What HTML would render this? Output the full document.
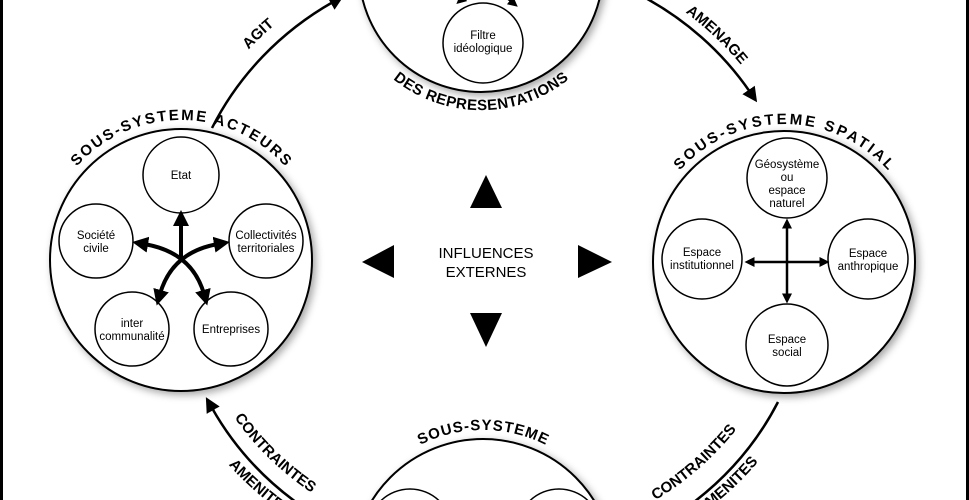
<!DOCTYPE html>
<html><head><meta charset="utf-8"><style>
html,body{margin:0;padding:0;background:#fff;width:969px;height:500px;overflow:hidden;}
svg{display:block;}
text{font-family:"Liberation Sans",sans-serif;fill:#000;}
.lb{font-size:15px;font-weight:bold;}
.sm{font-size:11.5px;}
</style></head><body>
<svg width="969" height="500" viewBox="0 0 969 500" xmlns="http://www.w3.org/2000/svg">
<defs>
<filter id="sh" x="-20%" y="-20%" width="140%" height="140%"><feDropShadow dx="3" dy="3" stdDeviation="4" flood-color="#000" flood-opacity="0.35"/></filter>
<marker id="ah" markerWidth="6" markerHeight="6" refX="1" refY="3" orient="auto" markerUnits="strokeWidth"><path d="M0,0 L6,3 L0,6 z" fill="#000"/></marker>
<marker id="as" markerWidth="4" markerHeight="4" refX="1" refY="2" orient="auto-start-reverse" markerUnits="strokeWidth"><path d="M0,0 L4,2 L0,4 z" fill="#000"/></marker>
<path id="pAgit" d="M185.3,150 A322 307 0 0 1 377.9,-33.6"/>
<path id="pAmen" d="M598.1,-33.6 A322 307 0 0 1 790.7,150"/>
<path id="pLC" d="M234.3,417.7 A306 291 0 0 0 434.8,541.6"/>
<path id="pLA" d="M220.7,455.7 A326 311 0 0 0 423.4,569.3"/>
<path id="pRC" d="M545.2,540.6 A306 291 0 0 0 736.5,429.2"/>
<path id="pRA" d="M561.6,572.3 A326 311 0 0 0 758.3,461.6"/>
<path id="pAct" d="M41,260 A140 140 0 0 1 321,260"/>
<path id="pSpa" d="M644,264 A140 140 0 0 1 924,264"/>
<path id="pRep" d="M349.4,17.9 A140 140 0 0 0 612.6,17.9"/>
<path id="pSous" d="M344,569 A139 139 0 0 1 622,569"/>
</defs>
<rect x="0" y="0" width="3" height="500" fill="#000"/>
<rect x="966" y="0" width="3" height="500" fill="#000"/>

<g fill="none" stroke="#000" stroke-width="2.5">
<path d="M212,128 A310 295 0 0 1 333,2" marker-end="url(#ah)"/>
<path d="M640,-5 A310 295 0 0 1 750,92" marker-end="url(#ah)"/>
<path d="M778,402 A310 295 0 0 1 690,505"/>
<path d="M300,505 A310 295 0 0 1 212,408" marker-end="url(#ah)"/>
</g>
<g class="lb">
<text><textPath href="#pAgit" startOffset="50%" text-anchor="middle">AGIT</textPath></text>
<text><textPath href="#pAmen" startOffset="50%" text-anchor="middle">AMENAGE</textPath></text>
<text><textPath href="#pLC" startOffset="0">CONTRAINTES</textPath></text>
<text><textPath href="#pLA" startOffset="12">AMENITES</textPath></text>
<text><textPath href="#pRC" startOffset="100%" text-anchor="end">CONTRAINTES</textPath></text>
<text><textPath href="#pRA" startOffset="100%" text-anchor="end">AMENITES</textPath></text>
</g>

<g fill="#fff" stroke="#000" stroke-width="2" filter="url(#sh)">
<circle cx="481" cy="-30" r="122"/>
<circle cx="181" cy="260" r="131"/>
<circle cx="784" cy="262" r="131"/>
<circle cx="483" cy="570" r="131"/>
</g>

<g fill="#fff" stroke="#000" stroke-width="1.5">
<circle cx="483" cy="43" r="40"/>
<circle cx="181" cy="175" r="38"/>
<circle cx="96" cy="241" r="37"/>
<circle cx="266" cy="241" r="37"/>
<circle cx="132" cy="329" r="37"/>
<circle cx="231" cy="329" r="37"/>
<circle cx="787" cy="178" r="40"/>
<circle cx="702" cy="259" r="40"/>
<circle cx="868" cy="259" r="40"/>
<circle cx="787" cy="345" r="41"/>
<circle cx="410" cy="531" r="42"/>
<circle cx="559" cy="531" r="42"/>
</g>

<g stroke="#000" stroke-width="2.5" fill="none">
<path d="M470,-8 L462,-1" marker-end="url(#as)"/>
<path d="M500,-8 L512,2" marker-end="url(#as)"/>
</g>

<g stroke="#000" stroke-width="4" fill="none" stroke-linecap="round">
<path d="M181,258 L181,222" marker-end="url(#as)"/>
<path d="M160,294 Q172,252 218,244" marker-start="url(#as)" marker-end="url(#as)"/>
<path d="M204,294 Q192,252 144,244" marker-start="url(#as)" marker-end="url(#as)"/>
</g>
<g stroke="#000" stroke-width="2.5" fill="none">
<path d="M787,262 L752,262" marker-end="url(#as)"/>
<path d="M787,262 L822,262" marker-end="url(#as)"/>
<path d="M787,262 L787,226" marker-end="url(#as)"/>
<path d="M787,262 L787,296" marker-end="url(#as)"/>
</g>

<g class="sm" text-anchor="middle">
<text x="483" y="39">Filtre</text><text x="483" y="52">idéologique</text>
<text x="181" y="179">Etat</text>
<text x="96" y="239">Société</text><text x="96" y="252">civile</text>
<text x="266" y="239">Collectivités</text><text x="266" y="252">territoriales</text>
<text x="132" y="327">inter</text><text x="132" y="340">communalité</text>
<text x="231" y="333">Entreprises</text>
<text x="787" y="168">Géosystème</text><text x="787" y="181">ou</text><text x="787" y="194">espace</text><text x="787" y="207">naturel</text>
<text x="702" y="256">Espace</text><text x="702" y="269">institutionnel</text>
<text x="868" y="257">Espace</text><text x="868" y="270">anthropique</text>
<text x="787" y="343">Espace</text><text x="787" y="356">social</text>
</g>

<g class="lb">
<text><textPath href="#pAct" startOffset="50%" text-anchor="middle" textLength="235" lengthAdjust="spacing">SOUS-SYSTEME ACTEURS</textPath></text>
<text><textPath href="#pSpa" startOffset="50%" text-anchor="middle" textLength="235" lengthAdjust="spacing">SOUS-SYSTEME SPATIAL</textPath></text>
<text><textPath href="#pRep" startOffset="50%" text-anchor="middle" textLength="190" lengthAdjust="spacing">DES REPRESENTATIONS</textPath></text>
<text><textPath href="#pSous" startOffset="50%" text-anchor="middle" textLength="130" lengthAdjust="spacing">SOUS-SYSTEME</textPath></text>
</g>

<g fill="#000">
<polygon points="486,175 470,208 502,208"/>
<polygon points="470,313 502,313 486,347"/>
<polygon points="362,262 394,245 394,278"/>
<polygon points="612,262 578,245 578,278"/>
</g>
<g font-size="15" text-anchor="middle">
<text x="486" y="258">INFLUENCES</text>
<text x="486" y="277">EXTERNES</text>
</g>
</svg>
</body></html>
